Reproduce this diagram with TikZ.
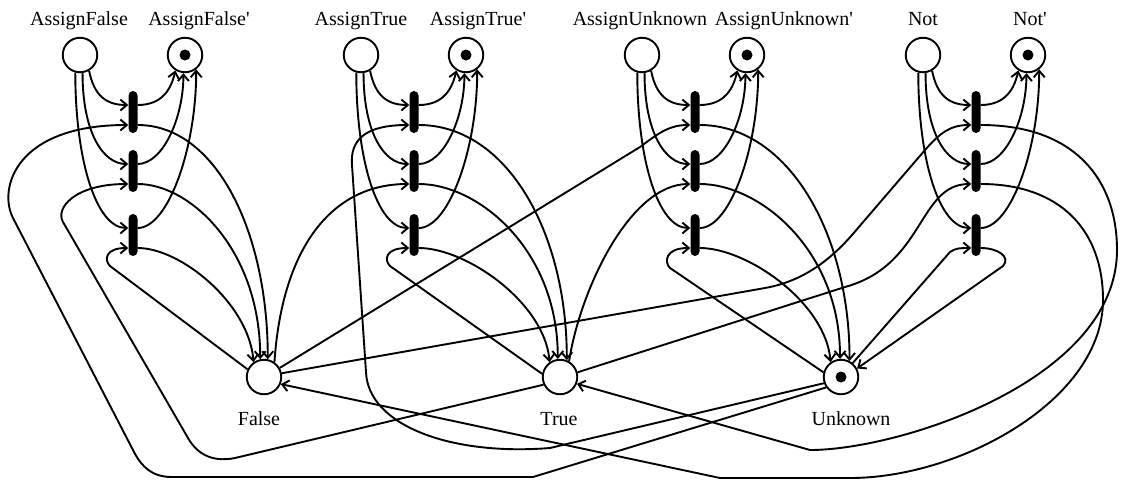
\documentclass[tikz,border=0pt]{standalone}
\usepackage{fontspec}
\setmainfont{Liberation Serif}
\usetikzlibrary{arrows.meta,calc}
\begin{document}
\begin{tikzpicture}[x=1pt,y=-1pt,
  place/.style={circle,draw,line width=1.9pt,minimum size=34.5pt,inner sep=0pt},
  bar/.style={fill=black,minimum width=9pt,minimum height=42pt,inner sep=0pt,rounded corners=4.5pt},
  arc/.style={line width=1.9pt,-{Straight Barb[length=6.5pt,width=11pt,line width=1.9pt]}},
  lbl/.style={font=\fontsize{20}{24}\selectfont,anchor=base,inner sep=0pt}]
\useasboundingbox (0,0) rectangle (1122,480);
% operation groups
\foreach \g/\px in {a/80,b/361,c/642,d/923}{
  \node[place] (op\g) at (\px,55) {};
  \node[place] (opp\g) at ({\px+105},55) {};
  \fill (opp\g) circle (5.5pt);
  \node[bar] (t\g1) at ({\px+53},112) {};
  \node[bar] (t\g2) at ({\px+53},171) {};
  \node[bar] (t\g3) at ({\px+53},235) {};
  \draw[arc] (op\g.-60) .. controls +(5,25) and +(-22,0) .. ([yshift=7pt]t\g1.west);
  \draw[arc] (op\g.-82) .. controls +(0,60) and +(-25,0) .. ([yshift=7pt]t\g2.west);
  \draw[arc] (op\g.-105) .. controls +(0,88) and +(-32,0) .. ([yshift=7pt]t\g3.west);
  \draw[arc] ([yshift=7pt]t\g1.east) .. controls +(25,0) and +(-4,18) .. (opp\g.-122);
  \draw[arc] ([yshift=7pt]t\g2.east) .. controls +(25,0) and +(0,45) .. (opp\g.-95);
  \draw[arc] ([yshift=7pt]t\g3.east) .. controls +(30,0) and +(0,80) .. (opp\g.-52);
}
% value places
\node[place] (F) at (264,377) {};
\node[place] (T) at (560,377) {};
\node[place] (U) at (841,377) {};
\fill (U) circle (5.5pt);
% labels
\node[lbl] (lopa) at (79,25) {AssignFalse};
\node[lbl] (loppa) at (199,25) {AssignFalse\textquotesingle};
\node[lbl] (lopb) at (361,25) {AssignTrue};
\node[lbl] (loppb) at (478,25) {AssignTrue\textquotesingle};
\node[lbl] (lopc) at (640,25) {AssignUnknown};
\node[lbl] (loppc) at (784,25) {AssignUnknown\textquotesingle};
\node[lbl] (lopd) at (923,25) {Not};
\node[lbl] (loppd) at (1030,25) {Not\textquotesingle};
\node[lbl] (lF) at (259,425) {False};
\node[lbl] (lT) at (559,425) {True};
\node[lbl] (lU) at (851,425) {Unknown};
% outputs to value places
\draw[arc] ([yshift=-13pt]ta1.east) .. controls +(78,0) and +(0,-128) .. (F.78);
\draw[arc] ([yshift=-13pt]ta2.east) .. controls +(53,0) and +(0,-109) .. (F.102);
\draw[arc] ([yshift=-13pt]ta3.east) .. controls +(43,0) and +(-5,-59) .. (F.125);
\draw[arc] ([yshift=-13pt]tb1.east) .. controls +(88,0) and +(0,-128) .. (T.68);
\draw[arc] ([yshift=-13pt]tb2.east) .. controls +(60,0) and +(0,-109) .. (T.97);
\draw[arc] ([yshift=-13pt]tb3.east) .. controls +(48,0) and +(-5,-59) .. (T.125);
\draw[arc] ([yshift=-13pt]tc1.east) .. controls +(88,0) and +(0,-128) .. (U.62);
\draw[arc] ([yshift=-13pt]tc2.east) .. controls +(60,0) and +(0,-109) .. (U.93);
\draw[arc] ([yshift=-13pt]tc3.east) .. controls +(48,0) and +(-5,-59) .. (U.125);
% inputs from value places
\draw[arc] (U.215) -- (533,477) -- (172,477) .. controls (152,477) and (142,467) .. (134,452) -- (13,218) .. controls (-2,189) and (15,125) .. ([yshift=-13pt]ta1.west);
\draw[arc] (T.205) -- (235,458) .. controls (210,463) and (196,452) .. (188,438) -- (63,222) .. controls (55,208) and (75,184) .. ([yshift=-13pt]ta2.west);
\draw[arc] (F.155) -- (110,266) .. controls (104,260) and (105,248) .. ([yshift=-13pt]ta3.west);
\draw[arc] (U.200) -- (550,448) .. controls (450,456) and (368,425) .. (366,372) -- (352,165) .. controls (350,140) and (365,125) .. ([yshift=-13pt]tb1.west);
\draw[arc] (F.55) .. controls (282,250) and (330,184) .. ([yshift=-13pt]tb2.west);
\draw[arc] (T.170) -- (390,266) .. controls (384,260) and (385,248) .. ([yshift=-13pt]tb3.west);
\draw[arc] (F.30) -- (640,147) .. controls (660,132) and (670,125) .. ([yshift=-13pt]tc1.west);
\draw[arc] (T.60) .. controls (580,290) and (630,184) .. ([yshift=-13pt]tc2.west);
\draw[arc] (U.165) -- (670,268) .. controls (664,262) and (665,248) .. ([yshift=-13pt]tc3.west);
\draw[arc] (F.12) -- (765,288) .. controls (810,280) and (838,252) .. (858,228) -- (925,150) .. controls (940,133) and (950,125) .. ([yshift=-13pt]td1.west);
\draw[arc] (T.15) -- (845,287) .. controls (925,265) and (918,184) .. ([yshift=-13pt]td2.west);
\draw[arc] (U.50) -- (950,252) .. controls (956,248) and (960,248) .. ([yshift=-13pt]td3.west);
% Not outputs
\draw[arc] ([yshift=-13pt]td1.east) .. controls (1075,125) and (1117,180) .. (1117,250) .. controls (1117,380) and (900,450) .. (810,450) -- (T.-22);
\draw[arc] ([yshift=-13pt]td2.east) .. controls (1060,184) and (1103,230) .. (1103,300) .. controls (1103,400) and (960,478) .. (850,478) -- (720,478) -- (F.-23);
\draw[arc] ([yshift=-13pt]td3.east) .. controls (998,248) and (1011,257) .. (1003,266) -- (U.28);
\end{tikzpicture}
\end{document}
